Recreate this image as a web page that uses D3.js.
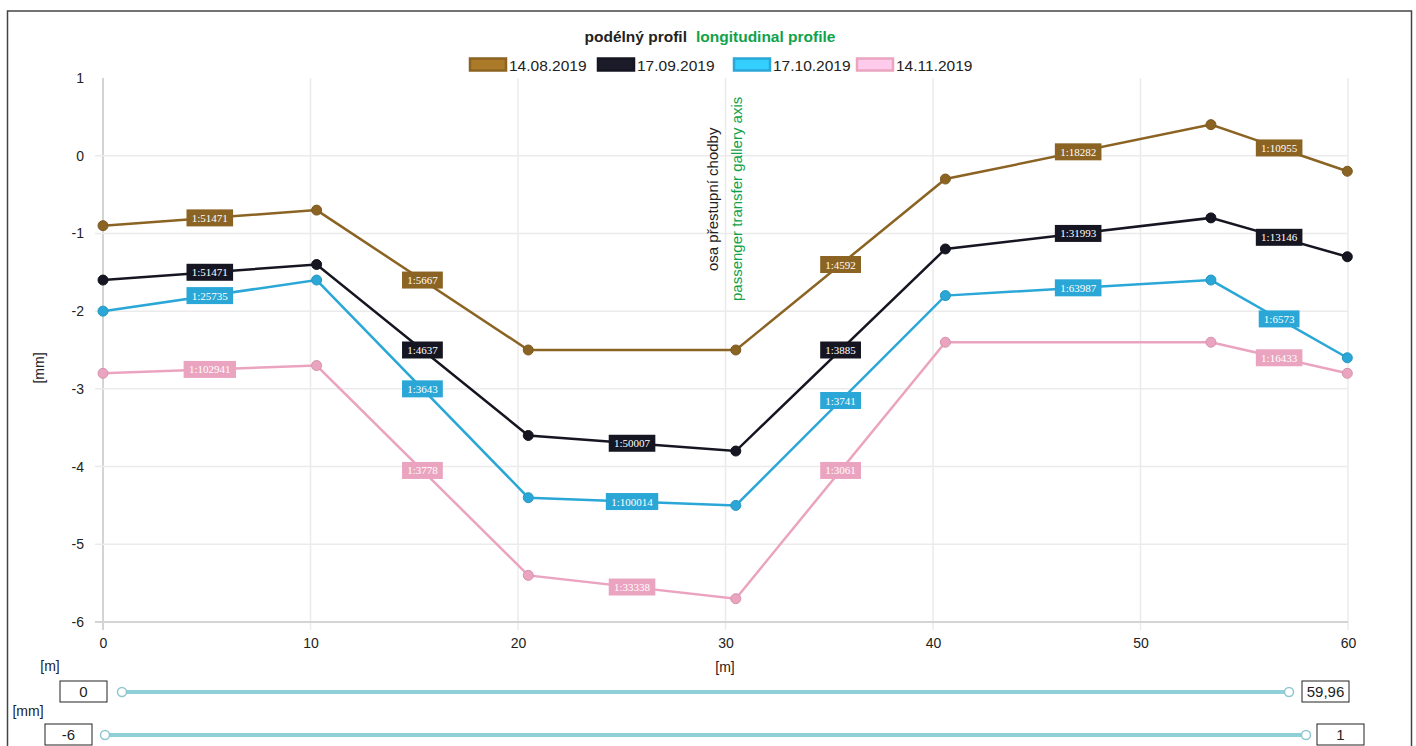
<!DOCTYPE html>
<html>
<head>
<meta charset="utf-8">
<script src="https://cdn.jsdelivr.net/npm/d3@7"></script>
<style>
  body { margin: 0; background: #fff; }
  svg { display: block; font-family: "Liberation Sans", Arial, sans-serif; }
</style>
</head>
<body>
<svg id="canvas" width="1416" height="746"></svg>
<script>
const svg = d3.select("#canvas");
const width = 1416;
const height = 746;

// stations along the gallery [m]
const stations = [0, 10.294, 20.495, 30.496, 40.597, 53.394, 59.967];

const dates = ["14.08.2019", "17.09.2019", "17.10.2019", "14.11.2019"];
const colors = ["#8b6322", "#161622", "#2aa7d6", "#eba4bf"];

// settlement [mm]
const aug = [-0.9, -0.7, -2.5, -2.5, -0.3, 0.4, -0.2];
const sep = [-1.6, -1.4, -3.6, -3.8, -1.2, -0.8, -1.3];
const oct = [-2.0, -1.6, -4.4, -4.5, -1.8, -1.6, -2.6];
const nov = [-2.8, -2.7, -5.4, -5.7, -2.4, -2.4, -2.8];

// slope labels for each segment (null = flat, no label)
const augSlopes = ["1:51471", "1:5667", null, "1:4592", "1:18282", "1:10955"];
const sepSlopes = ["1:51471", "1:4637", "1:50007", "1:3885", "1:31993", "1:13146"];
const octSlopes = ["1:25735", "1:3643", "1:100014", "1:3741", "1:63987", "1:6573"];
const novSlopes = ["1:102941", "1:3778", "1:33338", "1:3061", null, "1:16433"];

const xTicks = [0, 10, 20, 30, 40, 50, 60];
const yTicks = [1, 0, -1, -2, -3, -4, -5, -6];

const series = [aug, sep, oct, nov].map((vals, i) => ({
    name: dates[i],
    color: colors[i],
    values: vals,
    slopes: [augSlopes, sepSlopes, octSlopes, novSlopes][i]
}));

const x = d3.scaleLinear().domain([0, 60]).range([103, 1348]);
const y = d3.scaleLinear().domain([-6, 1]).range([622, 78]);

// outer frame
svg.append("rect")
    .attr("x", 7.5).attr("y", 11)
    .attr("width", 1404).attr("height", 745)
    .attr("fill", "none")
    .attr("stroke", "#444")
    .attr("stroke-width", 1.5);

// title
const title = svg.append("text")
    .attr("x", 710).attr("y", 42)
    .attr("text-anchor", "middle")
    .attr("font-size", "15.5px")
    .attr("font-weight", "bold");
title.append("tspan").attr("fill", "#222").text("podélný profil");
title.append("tspan").attr("fill", "#10a24a").attr("dx", 9).text("longitudinal profile");

// legend
const legendX = [469, 597, 733, 856];
dates.forEach((d, i) => {
    const g = svg.append("g").attr("transform", `translate(${legendX[i]},58)`);
    g.append("rect")
        .attr("x", 1).attr("y", 0.5)
        .attr("width", 36).attr("height", 12)
        .attr("fill", d3.color(colors[i]).brighter(0.6))
        .attr("stroke", colors[i])
        .attr("stroke-width", 2.5);
    g.append("text")
        .attr("x", 40).attr("y", 13)
        .attr("font-size", "15.5px")
        .attr("fill", "#222")
        .text(d);
});

// grid
svg.append("g")
    .selectAll("line")
    .data(xTicks)
    .join("line")
    .attr("x1", d => x(d)).attr("x2", d => x(d))
    .attr("y1", y(1)).attr("y2", y(-6) + 8)
    .attr("stroke", d => d === 0 ? "#d4d4d4" : "#ebebeb")
    .attr("stroke-width", d => d === 0 ? 2 : 1.5);

svg.append("g")
    .selectAll("line")
    .data(yTicks.filter(t => t < 1))
    .join("line")
    .attr("x1", x(0) - 8).attr("x2", x(60))
    .attr("y1", d => y(d)).attr("y2", d => y(d))
    .attr("stroke", d => d === -6 ? "#d4d4d4" : "#ebebeb")
    .attr("stroke-width", d => d === -6 ? 2 : 1.5);

// axes labels
const yAxis = d3.axisLeft(y).tickValues(yTicks).tickSize(0).tickPadding(0).tickFormat(d => String(d));
svg.append("g")
    .attr("transform", "translate(84,0)")
    .call(yAxis)
    .call(g => g.select(".domain").remove())
    .selectAll("text")
    .attr("font-size", "14px")
    .attr("fill", "#222")
    .attr("font-family", "Liberation Sans, Arial, sans-serif");

const xAxis = d3.axisBottom(x).tickValues(xTicks).tickSize(0).tickPadding(0).tickFormat(d => String(d));
svg.append("g")
    .attr("transform", "translate(0,638)")
    .call(xAxis)
    .call(g => g.select(".domain").remove())
    .selectAll("text")
    .attr("font-size", "14px")
    .attr("fill", "#222")
    .attr("font-family", "Liberation Sans, Arial, sans-serif");

svg.append("text")
    .attr("transform", "translate(44,368) rotate(-90)")
    .attr("text-anchor", "middle")
    .attr("font-size", "14px")
    .attr("fill", "#222")
    .text("[mm]");

svg.append("text")
    .attr("x", 725).attr("y", 672)
    .attr("text-anchor", "middle")
    .attr("font-size", "14px")
    .attr("fill", "#222")
    .text("[m]");

// gallery axis annotation
svg.append("text")
    .attr("transform", "translate(718,271) rotate(-90)")
    .attr("font-size", "15px")
    .attr("fill", "#222")
    .text("osa přestupní chodby");
svg.append("text")
    .attr("transform", "translate(742,301) rotate(-90)")
    .attr("font-size", "15px")
    .attr("fill", "#10a24a")
    .text("passenger transfer gallery axis");

// lines
const line = d3.line()
    .x((d, i) => x(stations[i]))
    .y(d => y(d));

series.forEach(s => {
    const g = svg.append("g");
    g.append("path")
        .datum(s.values)
        .attr("d", line)
        .attr("fill", "none")
        .attr("stroke", s.color)
        .attr("stroke-width", 2.5);

    g.selectAll("circle")
        .data(s.values)
        .join("circle")
        .attr("cx", (d, i) => x(stations[i]))
        .attr("cy", d => y(d))
        .attr("r", 5)
        .attr("fill", s.color)
        .attr("stroke", d3.color(s.color).darker(0.3))
        .attr("stroke-width", 1);
});

// slope labels at segment midpoints
series.forEach(s => {
    s.slopes.forEach((lab, i) => {
        if (!lab) return;
        const mx = (x(stations[i]) + x(stations[i + 1])) / 2;
        const my = (y(s.values[i]) + y(s.values[i + 1])) / 2;
        const w = lab.length * 5.8 + 6;
        svg.append("rect")
            .attr("x", mx - w / 2).attr("y", my - 8.5)
            .attr("width", w).attr("height", 17)
            .attr("fill", s.color);
        svg.append("text")
            .attr("x", mx).attr("y", my + 4)
            .attr("text-anchor", "middle")
            .attr("font-family", "Liberation Serif, Times New Roman, serif")
            .attr("font-size", "11px")
            .attr("fill", "#fff")
            .text(lab);
    });
});

// range sliders
const sliders = [
    { unit: "[m]", unitX: 50, unitY: 671, lo: "0", hi: "59,96", boxLo: 60, boxHi: 1302, y: 692, x1: 122, x2: 1289 },
    { unit: "[mm]", unitX: 28, unitY: 716, lo: "-6", hi: "1", boxLo: 45, boxHi: 1317, y: 735, x1: 105, x2: 1306 }
];
sliders.forEach(s => {
    svg.append("text")
        .attr("x", s.unitX).attr("y", s.unitY)
        .attr("text-anchor", "middle")
        .attr("font-size", "14px")
        .attr("fill", "#222")
        .text(s.unit);
    [[s.boxLo, s.lo], [s.boxHi, s.hi]].forEach(([bx, t]) => {
        svg.append("rect")
            .attr("x", bx).attr("y", s.y - 11)
            .attr("width", 47).attr("height", 21)
            .attr("fill", "#fff")
            .attr("stroke", "#222")
            .attr("stroke-width", 1);
        svg.append("text")
            .attr("x", bx + 23.5).attr("y", s.y + 5)
            .attr("text-anchor", "middle")
            .attr("font-size", "15px")
            .attr("fill", "#222")
            .text(t);
    });
    svg.append("line")
        .attr("x1", s.x1).attr("x2", s.x2)
        .attr("y1", s.y).attr("y2", s.y)
        .attr("stroke", "#8fd0d8")
        .attr("stroke-width", 4);
    [s.x1, s.x2].forEach(cx => {
        svg.append("circle")
            .attr("cx", cx).attr("cy", s.y)
            .attr("r", 4.5)
            .attr("fill", "#fff")
            .attr("stroke", "#8fc6cf")
            .attr("stroke-width", 1.5);
    });
});
</script>
</body>
</html>
